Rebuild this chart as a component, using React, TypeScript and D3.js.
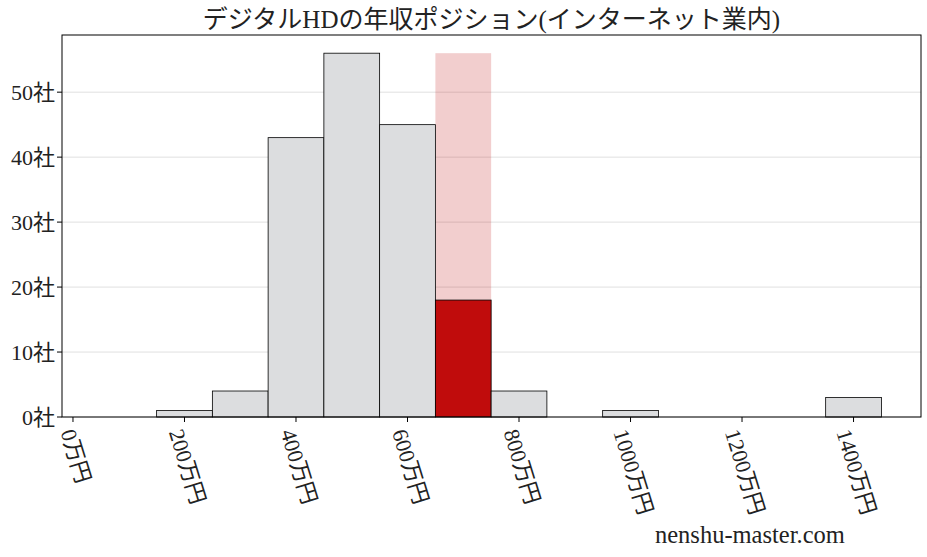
import * as d3 from 'd3';

// histogram bins (万円) and counts
const binStarts = [150, 250, 350, 450, 550, 650, 750, 950, 1350];
const binWidth = 100;
const counts = [1, 4, 43, 56, 45, 18, 4, 1, 3];
const highlightBin = 650; // this company's bin
const xTicks = [0, 200, 400, 600, 800, 1000, 1200, 1400];
const yTicks = [0, 10, 20, 30, 40, 50];
const title = 'デジタルHDの年収ポジション(インターネット業内)';
const watermark = 'nenshu-master.com';

const W = 927;
const H = 557;
const margin = { top: 35, right: 6, bottom: 140, left: 62 };
const font = '"Liberation Serif", "Noto Sans CJK JP", serif';
const tickSize = 22;
const angle = 73;

// rough label length: digits half an em, CJK a full em
const labelLen = (s: string) =>
  s.split('').reduce((a, c) => a + (/[0-9]/.test(c) ? 0.5 : 1), 0) * tickSize;

export default function App() {
  const x = d3
    .scaleLinear()
    .domain([-19.7, 1521])
    .range([margin.left, W - margin.right]);
  const maxCount = d3.max(counts) || 0;
  const y = d3
    .scaleLinear()
    .domain([0, maxCount * 1.05])
    .range([H - margin.bottom, margin.top]);
  const bottom = y(0);
  const rad = (angle * Math.PI) / 180;

  return (
    <svg width={W} height={H} style={{ position: 'absolute', left: 0, top: 0 }} fontFamily={font}>
      <rect width={W} height={H} fill="#fff" />
      {/* grid */}
      {yTicks.map((t) => (
        <line key={'g' + t} x1={x.range()[0]} x2={x.range()[1]} y1={y(t)} y2={y(t)} stroke="#e0e0e0" strokeWidth={1} />
      ))}
      {/* highlight band */}
      <rect
        x={x(highlightBin)}
        width={x(highlightBin + binWidth) - x(highlightBin)}
        y={y(maxCount)}
        height={bottom - y(maxCount)}
        fill="#c00c0c"
        fillOpacity={0.2}
      />
      {/* bars */}
      {binStarts.map((b, i) => (
        <rect
          key={'b' + b}
          x={x(b)}
          width={x(b + binWidth) - x(b)}
          y={y(counts[i])}
          height={bottom - y(counts[i])}
          fill={b === highlightBin ? '#c00c0c' : '#dcdddf'}
          stroke="#000"
          strokeWidth={0.8}
        />
      ))}
      {/* frame */}
      <rect
        x={x.range()[0]}
        y={margin.top}
        width={x.range()[1] - x.range()[0]}
        height={bottom - margin.top}
        fill="none"
        stroke="#000"
        strokeWidth={1}
      />
      {/* y axis */}
      {yTicks.map((t) => (
        <g key={'y' + t}>
          <line x1={x.range()[0] - 5} x2={x.range()[0]} y1={y(t)} y2={y(t)} stroke="#000" />
          <text x={x.range()[0] - 7} y={y(t)} dy="0.36em" textAnchor="end" fontSize={tickSize} fill="#222">
            {t}社
          </text>
        </g>
      ))}
      {/* x axis: rotated labels, box centred under the tick */}
      {xTicks.map((t) => {
        const label = `${t}万円`;
        const boxH = labelLen(label) * Math.sin(rad) + tickSize * 0.85 * Math.cos(rad);
        return (
          <g key={'x' + t}>
            <line x1={x(t)} x2={x(t)} y1={bottom} y2={bottom + 5} stroke="#000" />
            <text
              transform={`translate(${x(t) + 3},${bottom + 10 + boxH / 2}) rotate(${angle})`}
              fontSize={tickSize}
              fill="#222"
              textAnchor="middle"
              dy="0.35em"
            >
              {label}
            </text>
          </g>
        );
      })}
      <text x={(x.range()[0] + x.range()[1]) / 2} y={28} textAnchor="middle" fontSize={25} fill="#222">
        {title}
      </text>
      <text x={655} y={543} fontSize={24.5} fill="#222">
        {watermark}
      </text>
    </svg>
  );
}
